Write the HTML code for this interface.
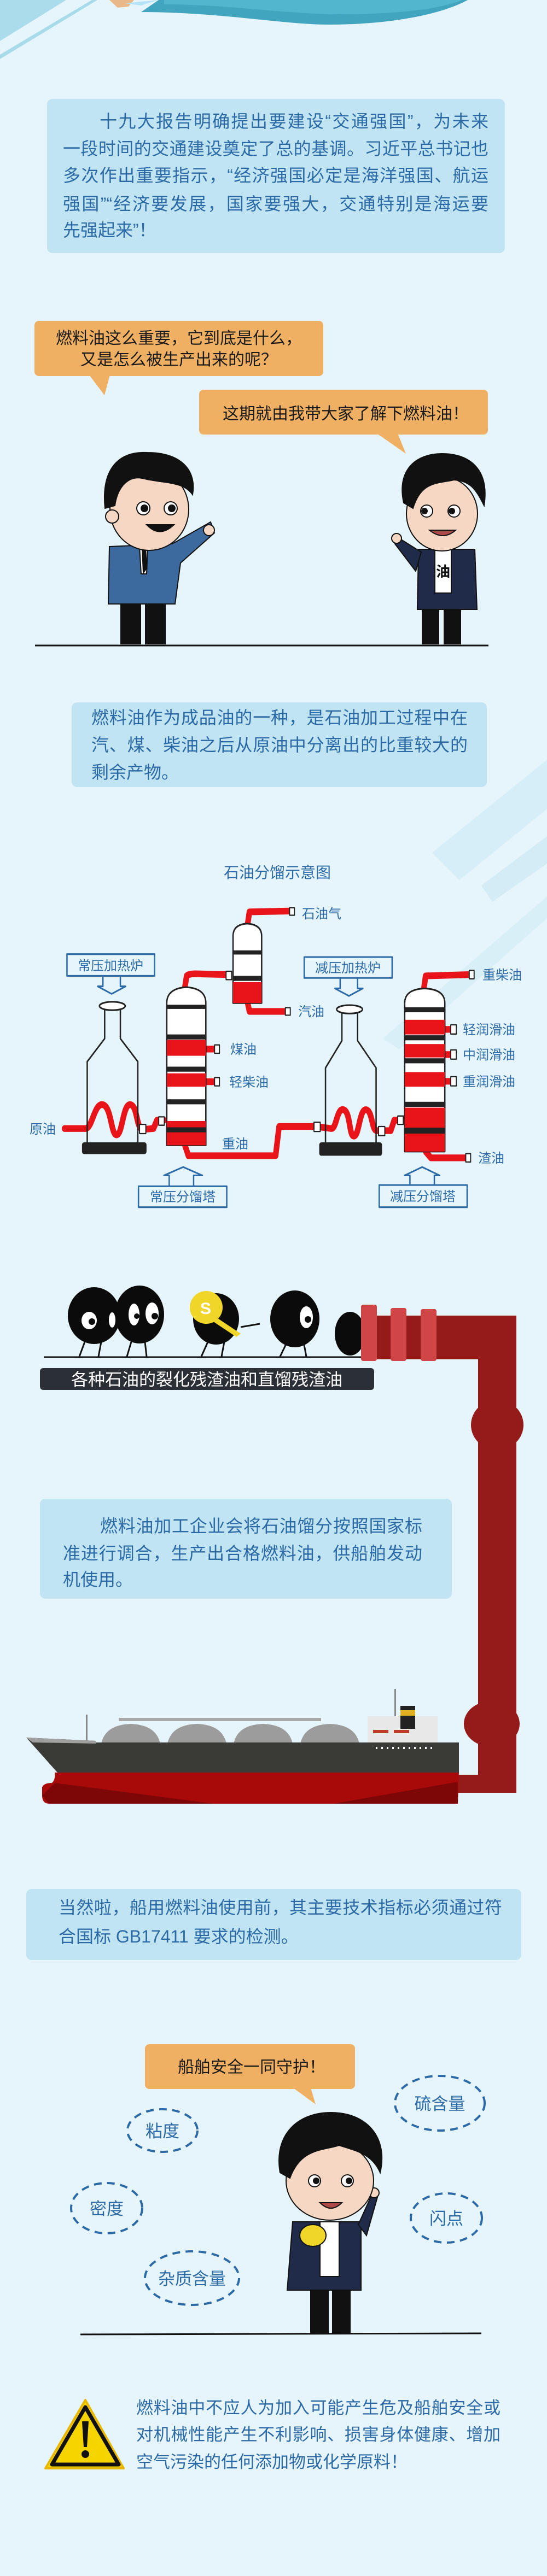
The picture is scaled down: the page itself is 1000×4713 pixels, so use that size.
<!DOCTYPE html>
<html><head><meta charset="utf-8"><style>
html,body{margin:0;padding:0}
body{width:1000px;height:4713px;position:relative;background:#e6f5fb;overflow:hidden;font-family:"Liberation Sans","Noto Sans CJK SC",sans-serif}
svg{position:absolute;left:0;top:0}
.l{position:absolute;font-size:32px;line-height:40px;height:40px;white-space:nowrap;color:#2b6aa6;font-family:"Liberation Sans","Noto Sans CJK SC",sans-serif}
.j{text-align:justify;text-align-last:justify}
.box{position:absolute;background:#c0e4f1;border-radius:10px}
</style></head><body>
<svg width="1000" height="4713" viewBox="0 0 1000 4713" font-family="Liberation Sans, Noto Sans CJK SC, sans-serif">
<!-- top decorations -->
<polygon points="0,0 121,0 0,75" fill="#abdcec"/>
<polygon points="168,0 178,0 0,108 0,100" fill="#a8dbe9"/>
<path d="M200,0 L245,0 L235,12 L215,14 Z" fill="#e9b888"/>
<path d="M228,6 L258,10 L290,0 Z" fill="#b4e2f6"/>
<path d="M258,22 C400,22 520,45 600,45 C700,45 800,30 855,0 L290,0 Z" fill="#42a5c0"/>
<path d="M300,8 C420,8 520,26 620,26 C720,26 800,18 845,0 L300,0 Z" fill="#53b6cf"/>
<!-- diagonal streaks right -->
<polygon points="790,1560 1000,1390 1000,1480 840,1610" fill="#d4edf6" opacity="0.9"/>
<polygon points="700,1900 1000,1640 1000,1680 730,1920" fill="#d6eef7" opacity="0.8"/>
<polygon points="880,1620 1000,1530 1000,1580 900,1650" fill="#cfeaf4" opacity="0.8"/>

<!-- bubble 1 -->
<rect x="63" y="587" width="528" height="101" rx="8" fill="#efb063"/>
<polygon points="163,686 201,686 191,723" fill="#efb063"/>
<text x="327" y="629" font-size="30" text-anchor="middle" fill="#1a1a1a">燃料油这么重要，它到底是什么，</text>
<text x="327" y="668" font-size="30" text-anchor="middle" fill="#1a1a1a">又是怎么被生产出来的呢？</text>
<!-- bubble 2 -->
<rect x="364" y="713" width="528" height="82" rx="8" fill="#efb063"/>
<polygon points="689,793 727,793 742,830" fill="#efb063"/>
<text x="632" y="767" font-size="30" text-anchor="middle" fill="#1a1a1a">这期就由我带大家了解下燃料油！</text>

<!-- left man -->
<g stroke="#111" stroke-width="2">
<rect x="221" y="1100" width="36" height="78" fill="#111"/>
<rect x="266" y="1100" width="36" height="78" fill="#111"/>
<path d="M200,1000 L315,995 L385,955 L392,975 L330,1030 L320,1105 L198,1105 Z" fill="#3c6a9e"/>
<polygon points="255,1000 270,1000 268,1050 258,1050" fill="#fff"/>
<polygon points="260,1002 266,1002 268,1040 262,1048" fill="#111"/>
<circle cx="382" cy="970" r="10" fill="#f6d7c3"/>
<ellipse cx="273" cy="932" rx="72" ry="75" fill="#f6d7c3"/>
<path d="M192,930 C185,860 215,825 270,828 C330,828 360,860 352,905 C335,880 300,885 260,875 C235,870 215,890 210,925 Z" fill="#111"/>
<circle cx="205" cy="945" r="12" fill="#f6d7c3"/>
<circle cx="262" cy="930" r="12" fill="#fff"/><circle cx="264" cy="930" r="6" fill="#111"/>
<circle cx="312" cy="930" r="12" fill="#fff"/><circle cx="314" cy="930" r="6" fill="#111"/>
<path d="M268,960 Q292,985 318,960 Z" fill="#111"/>
</g>
<!-- right man -->
<g stroke="#111" stroke-width="2">
<rect x="772" y="1110" width="30" height="68" fill="#111"/>
<rect x="812" y="1110" width="30" height="68" fill="#111"/>
<path d="M765,1005 L868,1005 L872,1115 L763,1115 Z" fill="#1f2b48"/>
<path d="M770,1010 L730,985 L722,995 L760,1045 Z" fill="#1f2b48"/>
<rect x="795" y="1005" width="30" height="80" fill="#fff"/>
<circle cx="725" cy="985" r="9" fill="#f6d7c3"/>
<ellipse cx="808" cy="940" rx="65" ry="68" fill="#f6d7c3"/>
<path d="M738,920 C725,860 760,830 808,830 C860,830 895,860 885,925 C870,895 860,880 830,878 C800,885 770,880 755,930 Z" fill="#111"/>
<circle cx="780" cy="935" r="11" fill="#fff"/><circle cx="776" cy="935" r="5" fill="#111"/>
<circle cx="830" cy="935" r="11" fill="#fff"/><circle cx="826" cy="935" r="5" fill="#111"/>
<path d="M785,970 Q810,990 833,970 Z" fill="#b04a4a"/>
</g>
<text x="810" y="1055" font-size="26" text-anchor="middle" fill="#111" font-weight="bold">油</text>
<line x1="64" y1="1181" x2="893" y2="1181" stroke="#111" stroke-width="3"/>

<!-- diagram title -->
<text x="507" y="1606" font-size="28" text-anchor="middle" fill="#2b6aa6">石油分馏示意图</text>

<!-- diagram shapes in zoom coords -->
<g transform="translate(0,1200) scale(0.6378,0.7653)" stroke-linejoin="round">
 <g fill="none" stroke="#e8141a" stroke-width="16" stroke-linecap="round">
  <path d="M530,792 L535,765 Q540,760 560,760 L655,762"/>
  <path d="M710,640 L715,612 L830,610"/>
  <path d="M710,830 L715,850 L818,850"/>
  <path d="M590,940 L615,940"/><path d="M590,1018 L615,1018"/>
  <path d="M185,1130 L245,1130 C265,1130 270,1068 295,1073 C320,1078 318,1148 335,1145 C352,1142 352,1068 375,1073 C395,1078 390,1132 410,1132 L440,1130 L450,1110 L470,1110"/>
  <path d="M530,1170 L540,1195 L790,1195 L800,1125 L905,1125"/>
  <path d="M905,1125 L950,1130 C965,1130 965,1080 985,1085 C1005,1090 1000,1150 1015,1148 C1030,1146 1030,1082 1050,1085 C1068,1088 1065,1135 1080,1135 L1120,1135 L1130,1110 L1160,1110"/>
  <path d="M1215,795 L1220,765 L1345,762"/>
  <path d="M1275,893 L1300,893"/><path d="M1275,953 L1300,953"/><path d="M1275,1017 L1300,1017"/>
  <path d="M1220,1185 L1235,1200 L1340,1200"/>
 </g>
 <g fill="#fff" stroke="#222" stroke-width="3">
  <rect x="830" y="602" width="14" height="18"/><rect x="818" y="841" width="14" height="18"/>
  <rect x="615" y="930" width="14" height="20"/><rect x="615" y="1008" width="14" height="20"/>
  <rect x="648" y="754" width="16" height="20"/><rect x="400" y="1120" width="18" height="22"/><rect x="455" y="1102" width="16" height="20"/>
  <rect x="900" y="1115" width="18" height="22"/><rect x="1085" y="1125" width="18" height="22"/><rect x="1140" y="1100" width="16" height="20"/>
  <rect x="1345" y="752" width="14" height="20"/><rect x="1292" y="882" width="16" height="22"/><rect x="1292" y="942" width="16" height="22"/><rect x="1292" y="1006" width="16" height="22"/><rect x="1335" y="1190" width="14" height="20"/>
 </g>
 <!-- heater 1 -->
 <g fill="#fff" stroke="#222" stroke-width="4">
  <path d="M300,845 L300,915 L250,970 L250,1165 L395,1165 L395,970 L345,915 L345,845 Z" fill="none"/>
  <ellipse cx="322" cy="837" rx="37" ry="10"/>
 </g>
 <rect x="235" y="1163" width="185" height="28" rx="6" fill="#222"/>
 <!-- heater 2 -->
 <g fill="#fff" stroke="#222" stroke-width="4">
  <path d="M980,850 L980,920 L933,985 L933,1165 L1078,1165 L1078,985 L1025,920 L1025,850 Z" fill="none"/>
  <ellipse cx="1002" cy="845" rx="37" ry="10"/>
 </g>
 <rect x="915" y="1163" width="180" height="32" rx="6" fill="#222"/>
 <!-- tower 1 -->
 <path d="M478,1170 L478,830 Q478,795 534,792 Q590,795 590,830 L590,1170 Z" fill="#fff" stroke="#222" stroke-width="4"/>
 <g fill="#e8141a"><rect x="478" y="918" width="112" height="38"/><rect x="478" y="998" width="112" height="32"/><rect x="478" y="1112" width="112" height="58"/></g>
 <g fill="#222"><rect x="478" y="834" width="112" height="10"/><rect x="478" y="905" width="112" height="12"/><rect x="478" y="982" width="112" height="12"/><rect x="478" y="1060" width="112" height="12"/><rect x="478" y="1127" width="112" height="12"/></g>
 <!-- condenser -->
 <path d="M668,830 L668,670 Q668,642 708,640 Q750,642 750,670 L750,830 Z" fill="#fff" stroke="#222" stroke-width="4"/>
 <rect x="668" y="780" width="82" height="50" fill="#e8141a"/>
 <rect x="668" y="704" width="82" height="10" fill="#222"/><rect x="668" y="765" width="82" height="12" fill="#222"/>
 <!-- tower 2 -->
 <path d="M1160,1185 L1160,830 Q1160,797 1217,795 Q1275,797 1275,830 L1275,1185 Z" fill="#fff" stroke="#222" stroke-width="4"/>
 <g fill="#e8141a"><rect x="1160" y="870" width="115" height="35"/><rect x="1160" y="928" width="115" height="32"/><rect x="1160" y="995" width="115" height="35"/><rect x="1160" y="1080" width="115" height="105"/></g>
 <g fill="#222"><rect x="1160" y="840" width="115" height="12"/><rect x="1160" y="907" width="115" height="12"/><rect x="1160" y="962" width="115" height="12"/><rect x="1160" y="1066" width="115" height="12"/><rect x="1160" y="1128" width="115" height="14"/></g>
 <!-- label boxes -->
 <g fill="none" stroke="#2b6aa6" stroke-width="4">
  <rect x="192" y="713" width="251" height="52"/>
  <path d="M295,765 L295,790 L280,790 L320,808 L360,790 L345,790 L345,765"/>
  <rect x="872" y="720" width="252" height="50"/>
  <path d="M975,770 L975,795 L960,795 L1000,813 L1040,795 L1025,795 L1025,770"/>
  <rect x="397" y="1268" width="253" height="50"/>
  <path d="M485,1268 L485,1242 L470,1242 L525,1222 L580,1242 L555,1242 L555,1268"/>
  <rect x="1087" y="1265" width="252" height="53"/>
  <path d="M1175,1265 L1175,1242 L1160,1242 L1210,1222 L1260,1242 L1245,1242 L1245,1265"/>
 </g>
</g>
<g font-size="24" fill="#2b6aa6">
<text x="552" y="1680">石油气</text>
<text x="545" y="1859">汽油</text>
<text x="421" y="1928">煤油</text>
<text x="419" y="1988">轻柴油</text>
<text x="54" y="2074">原油</text>
<text x="406" y="2101">重油</text>
<text x="882" y="1792">重柴油</text>
<text x="846" y="1892">轻润滑油</text>
<text x="846" y="1938">中润滑油</text>
<text x="846" y="1987">重润滑油</text>
<text x="874" y="2127">渣油</text>
<text x="202" y="1775" text-anchor="middle">常压加热炉</text>
<text x="636" y="1779" text-anchor="middle">减压加热炉</text>
<text x="334" y="2198" text-anchor="middle">常压分馏塔</text>
<text x="773" y="2197" text-anchor="middle">减压分馏塔</text>
</g>

<!-- ants -->
<line x1="80" y1="2483" x2="665" y2="2483" stroke="#111" stroke-width="3"/>
<g stroke="#111" stroke-width="3" fill="none">
<path d="M155,2455 L145,2482 M185,2455 L180,2482 M240,2455 L232,2482 M265,2455 L268,2482 M380,2455 L368,2482 M410,2455 L405,2482 M525,2455 L512,2482 M555,2455 L560,2482 M440,2428 L475,2422"/>
</g>
<ellipse cx="172" cy="2407" rx="48" ry="52" fill="#0b0b0b"/>
<ellipse cx="255" cy="2405" rx="45" ry="53" fill="#0b0b0b"/>
<ellipse cx="395" cy="2413" rx="42" ry="47" fill="#0b0b0b"/>
<circle cx="377" cy="2392" r="30" fill="#f1d62a"/>
<path d="M395,2410 L440,2440 L432,2446 L390,2418 Z" fill="#f1d62a"/>
<text x="366" y="2404" font-size="30" fill="#fff" font-weight="bold">S</text>
<ellipse cx="539" cy="2413" rx="45" ry="52" fill="#0b0b0b"/>
<ellipse cx="640" cy="2440" rx="28" ry="40" fill="#0b0b0b"/>
<g fill="#fff"><ellipse cx="163" cy="2416" rx="14" ry="16"/><ellipse cx="205" cy="2415" rx="6" ry="14"/><ellipse cx="245" cy="2405" rx="10" ry="20"/><ellipse cx="278" cy="2403" rx="12" ry="20"/><ellipse cx="560" cy="2410" rx="12" ry="20"/></g>
<g fill="#0b0b0b"><circle cx="168" cy="2418" r="6"/><circle cx="250" cy="2408" r="5"/><circle cx="283" cy="2408" r="6"/><circle cx="563" cy="2414" r="6"/></g>
<rect x="73" y="2503" width="611" height="40" rx="6" fill="#2b2f36"/>
<text x="378" y="2535" font-size="31" text-anchor="middle" fill="#fff">各种石油的裂化残渣油和直馏残渣油</text>

<!-- pipe -->
<path d="M660,2407 L944,2407 L944,3280 L823,3280 L823,3247 L874,3247 L874,2487 L660,2487 Z" fill="#951a1a"/>
<ellipse cx="909" cy="2607" rx="48" ry="46" fill="#951a1a"/>
<ellipse cx="899" cy="3154" rx="51" ry="42" fill="#951a1a"/>
<g fill="#d04545"><rect x="660" y="2387" width="29" height="103" rx="4"/><rect x="714" y="2393" width="29" height="97" rx="4"/><rect x="769" y="2395" width="29" height="95" rx="4"/></g>

<!-- ship -->
<polygon points="217,3143 587,3143 587,3149 217,3149" fill="#a9a9a9"/>
<g fill="#9c9c9c"><path d="M184,3203 Q184,3156 239,3154 Q294,3156 294,3203 Z"/><path d="M305,3203 Q305,3156 360,3154 Q415,3156 415,3203 Z"/><path d="M426,3203 Q426,3156 481,3154 Q536,3156 536,3203 Z"/><path d="M548,3203 Q548,3156 603,3154 Q658,3156 658,3203 Z"/></g>
<rect x="157" y="3137" width="3" height="50" fill="#888"/>
<rect x="672" y="3140" width="128" height="50" fill="#e8e8e8"/>
<rect x="732" y="3121" width="27" height="42" fill="#222"/><rect x="732" y="3129" width="27" height="10" fill="#e0b020"/>
<rect x="721" y="3090" width="3" height="50" fill="#888"/>
<rect x="682" y="3165" width="28" height="6" fill="#c03a2a"/><rect x="720" y="3165" width="28" height="6" fill="#c03a2a"/>
<polygon points="48,3179 175,3185 175,3188 839,3188 839,3243 105,3243" fill="#3a3a36"/>
<polygon points="48,3179 175,3185 175,3190 60,3188" fill="#a0a0a0"/>
<path d="M100,3243 L839,3243 L837,3300 L90,3300 Q77,3300 77,3285 L77,3270 Q80,3262 95,3262 Q102,3255 100,3243 Z" fill="#a80a0a"/>
<polygon points="100,3262 390,3300 90,3300 77,3285" fill="#7d0606"/>
<polygon points="610,3300 837,3260 837,3300" fill="#7d0606"/>
<g fill="#fff"><rect x="687" y="3196" width="3" height="4"/><rect x="697" y="3196" width="3" height="4"/><rect x="707" y="3196" width="3" height="4"/><rect x="717" y="3196" width="3" height="4"/><rect x="727" y="3196" width="3" height="4"/><rect x="737" y="3196" width="3" height="4"/><rect x="747" y="3196" width="3" height="4"/><rect x="757" y="3196" width="3" height="4"/><rect x="767" y="3196" width="3" height="4"/><rect x="777" y="3196" width="3" height="4"/><rect x="787" y="3196" width="3" height="4"/></g>

<!-- bubble 3 -->
<rect x="265" y="3740" width="384" height="82" rx="8" fill="#efb063"/>
<polygon points="536,3820 568,3820 577,3850" fill="#efb063"/>
<text x="460" y="3792" font-size="30" text-anchor="middle" fill="#1a1a1a">船舶安全一同守护！</text>
<g fill="none" stroke="#2b6aa6" stroke-width="4" stroke-dasharray="14 10">
<ellipse cx="297" cy="3898" rx="64" ry="39"/>
<ellipse cx="195" cy="4040" rx="65" ry="46"/>
<ellipse cx="351" cy="4168" rx="86" ry="49"/>
<ellipse cx="804" cy="3848" rx="82" ry="50"/>
<ellipse cx="816" cy="4058" rx="65" ry="45"/>
</g>
<g font-size="31" fill="#2b6aa6" text-anchor="middle">
<text x="297" y="3910">粘度</text><text x="195" y="4052">密度</text><text x="351" y="4180">杂质含量</text><text x="804" y="3860">硫含量</text><text x="816" y="4070">闪点</text>
</g>
<!-- man 3 -->
<g stroke="#111" stroke-width="2">
<rect x="568" y="4185" width="32" height="85" fill="#111"/><rect x="608" y="4185" width="32" height="85" fill="#111"/>
<path d="M535,4065 L660,4065 L660,4190 L525,4190 Z" fill="#1f2b48"/>
<path d="M655,4070 L680,4015 L690,4020 L670,4090 Z" fill="#1f2b48"/>
<rect x="585" y="4065" width="35" height="100" fill="#fff"/>
<circle cx="684" cy="4012" r="9" fill="#f6d7c3"/>
<ellipse cx="572" cy="4090" rx="24" ry="20" fill="#f1d62a"/>
<ellipse cx="603" cy="3990" rx="80" ry="72" fill="#f6d7c3"/>
<path d="M512,3975 C500,3905 545,3865 605,3865 C670,3865 710,3910 695,3975 C680,3940 650,3935 620,3925 C590,3935 550,3930 530,3985 Z" fill="#111"/>
<circle cx="575" cy="3990" r="11" fill="#fff"/><circle cx="578" cy="3990" r="5" fill="#111"/>
<circle cx="635" cy="3990" r="11" fill="#fff"/><circle cx="638" cy="3990" r="5" fill="#111"/>
<path d="M585,4030 Q605,4050 625,4030 Z" fill="#b04a4a"/>
</g>
<line x1="147" y1="4271" x2="880" y2="4269" stroke="#111" stroke-width="3"/>
<!-- warning -->
<polygon points="156,4391 83,4516 226,4516" fill="#f5d400" stroke="#e8b800" stroke-width="4" stroke-linejoin="round"/>
<polygon points="156,4404 95,4509 217,4509" fill="none" stroke="#111" stroke-width="7" stroke-linejoin="round"/>
<path d="M150,4430 L162,4430 L159,4477 L153,4477 Z" fill="#111"/>
<circle cx="156" cy="4490" r="7" fill="#111"/>
</svg>

<!-- paragraph boxes -->
<div class="box" style="left:86px;top:181px;width:837px;height:282px"></div>
<div class="l j" style="left:182px;top:202px;width:711px">十九大报告明确提出要建设“交通强国”，为未来</div>
<div class="l j" style="left:115px;top:252px;width:778px">一段时间的交通建设奠定了总的基调。习近平总书记也</div>
<div class="l j" style="left:115px;top:301px;width:778px">多次作出重要指示，“经济强国必定是海洋强国、航运</div>
<div class="l j" style="left:115px;top:353px;width:778px">强国”“经济要发展，国家要强大，交通特别是海运要</div>
<div class="l" style="left:115px;top:401px">先强起来”！</div>

<div class="box" style="left:131px;top:1285px;width:759px;height:155px"></div>
<div class="l j" style="left:167px;top:1293px;width:688px">燃料油作为成品油的一种，是石油加工过程中在</div>
<div class="l j" style="left:167px;top:1343px;width:688px">汽、煤、柴油之后从原油中分离出的比重较大的</div>
<div class="l" style="left:167px;top:1393px">剩余产物。</div>

<div class="box" style="left:73px;top:2742px;width:753px;height:183px"></div>
<div class="l j" style="left:183px;top:2772px;width:589px">燃料油加工企业会将石油馏分按照国家标</div>
<div class="l j" style="left:115px;top:2822px;width:657px">准进行调合，生产出合格燃料油，供船舶发动</div>
<div class="l" style="left:115px;top:2870px">机使用。</div>

<div class="box" style="left:48px;top:3456px;width:905px;height:130px"></div>
<div class="l j" style="left:107px;top:3470px;width:811px">当然啦，船用燃料油使用前，其主要技术指标必须通过符</div>
<div class="l" style="left:107px;top:3523px">合国标 GB17411 要求的检测。</div>

<div class="l j" style="left:249px;top:4386px;width:666px;font-size:31px">燃料油中不应人为加入可能产生危及船舶安全或</div>
<div class="l j" style="left:249px;top:4435px;width:666px;font-size:31px">对机械性能产生不利影响、损害身体健康、增加</div>
<div class="l" style="left:249px;top:4485px;font-size:31px">空气污染的任何添加物或化学原料！</div>
</body></html>
